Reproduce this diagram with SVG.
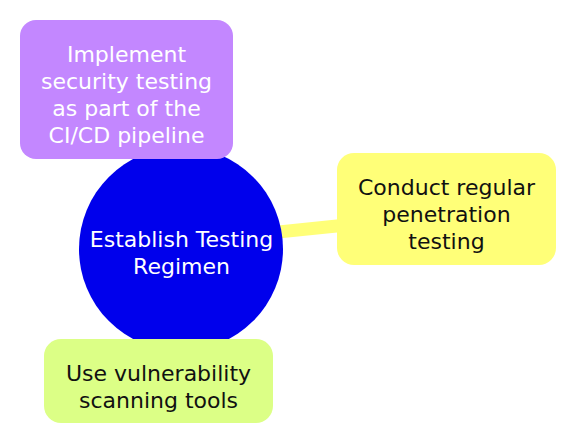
<svg xmlns="http://www.w3.org/2000/svg" width="576" height="443" viewBox="0 0 576 443">
<style>
text{font-family:"DejaVu Sans","Liberation Sans",sans-serif;font-size:22px;text-anchor:middle}
.w{fill:#ffffff}
.k{fill:#111111}
.edge{stroke:#ffff78;stroke-width:13;fill:none}
</style>
<rect width="576" height="443" fill="#ffffff"/>
<g id="connectors">
<line class="edge" x1="250" y1="235" x2="400" y2="219.5"/>
</g>
<g id="root">
<circle cx="181" cy="249" r="102" fill="#0000ec"/>
<text class="w" x="181.5" y="247">Establish Testing</text>
<text class="w" x="181.5" y="274">Regimen</text>
</g>
<g id="node-ci">
<rect x="20" y="20" width="213" height="139" rx="16" fill="#c387ff"/>
<text class="w" x="126.5" y="62">Implement</text>
<text class="w" x="126.5" y="89">security testing</text>
<text class="w" x="126.5" y="116">as part of the</text>
<text class="w" x="126.5" y="143">CI/CD pipeline</text>
</g>
<g id="node-pentest">
<rect x="337" y="153" width="219" height="112" rx="17" fill="#ffff78"/>
<text class="k" x="446.5" y="195">Conduct regular</text>
<text class="k" x="446.5" y="222">penetration</text>
<text class="k" x="446.5" y="249">testing</text>
</g>
<g id="node-scan">
<rect x="44" y="339" width="229" height="84" rx="17" fill="#dcff86"/>
<text class="k" x="158.5" y="381">Use vulnerability</text>
<text class="k" x="158.5" y="408">scanning tools</text>
</g>
</svg>
